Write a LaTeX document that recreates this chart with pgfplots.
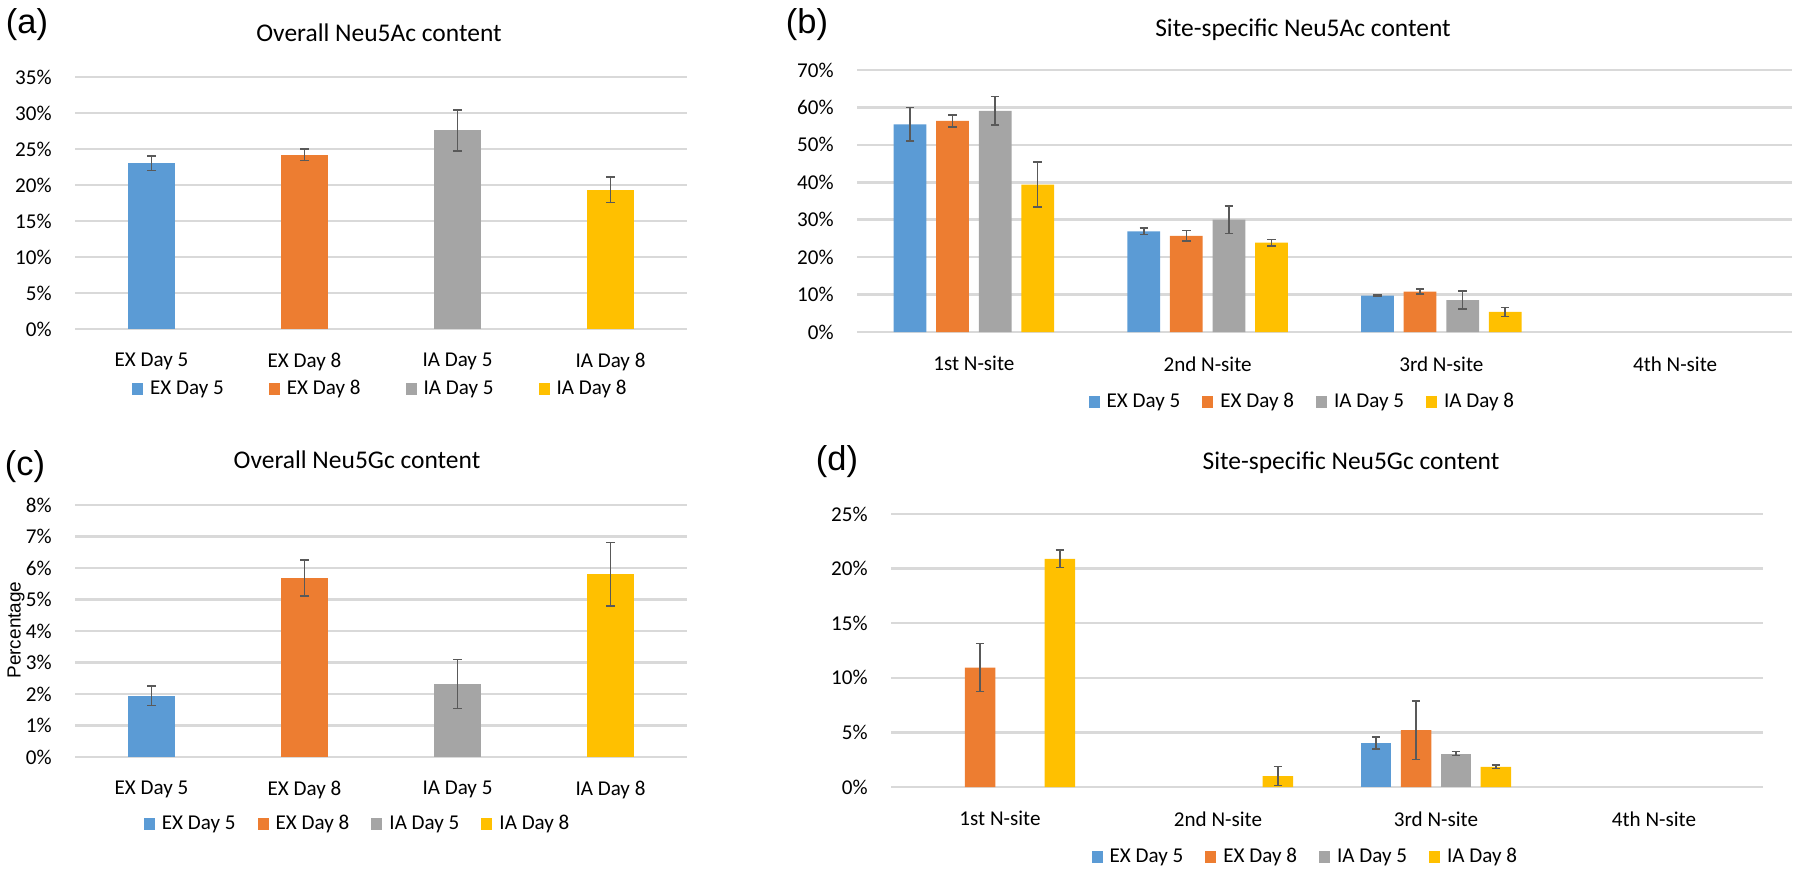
\documentclass[border=0pt]{standalone}
\usepackage{fontspec}
\setmainfont{Carlito}
\newfontfamily\arialfont{Liberation Sans}
\usepackage{pgfplots}
\pgfplotsset{compat=1.18}
\definecolor{cblue}{HTML}{5B9BD5}
\definecolor{corange}{HTML}{ED7D31}
\definecolor{cgray}{HTML}{A5A5A5}
\definecolor{cyellow}{HTML}{FFC000}
\definecolor{gridc}{HTML}{D9D9D9}
\definecolor{errc}{HTML}{595959}
\pgfplotsset{
  excel/.style={
    scale only axis,
    axis line style={draw=none},
    major tick length=0pt,
    ymajorgrids,
    grid style={color=gridc, line width=0.7pt},
    xmin=-0.5, xmax=3.5, xtick={0,1,2,3}, ymin=0,
    ybar,
    legend image code/.code={\fill[##1] (0cm,-0.05cm) rectangle (0.11cm,0.07cm);},
    tick label style={font=\fontsize{6}{7}\selectfont},
    /pgf/number format/assume math mode=true,
    yticklabel={\pgfmathprintnumber{\tick}\%},
    yticklabel style={xshift=-0.11cm},
    xticklabel style={yshift=-0.12cm},
    legend style={draw=none, fill=none, font=\fontsize{6}{7}\selectfont, legend columns=4, anchor=center},
    legend cell align=left,
    error bars/y dir=both, error bars/y explicit,
    error bars/error bar style={color=errc, line width=0.45pt},
    error bars/error mark options={rotate=90, color=errc, line width=0.45pt, mark size=1.2pt},
  },
  b1/.style={fill=cblue, draw=none},
  b2/.style={fill=corange, draw=none},
  b3/.style={fill=cgray, draw=none},
  b4/.style={fill=cyellow, draw=none},
}
\begin{document}
\begin{tikzpicture}
\useasboundingbox (0,0) rectangle (18,8.79);

% (a)
\begin{axis}[excel, at={(0.75cm,5.50cm)}, anchor=south west, width=6.12cm, height=2.52cm,
  ymax=35, ytick={0,5,...,35}, bar width=0.31,
  xticklabels={EX Day 5, EX Day 8, IA Day 5, IA Day 8},
  legend style={at={(0.503,-0.242)}, /tikz/every even column/.append style={column sep=0.38cm}}]
\addplot[b1, bar shift=0] coordinates {(0,23.04) +- (0,1.0)};
\addplot[b2, bar shift=0] coordinates {(1,24.2) +- (0,0.8)};
\addplot[b3, bar shift=0] coordinates {(2,27.6) +- (0,2.85)};
\addplot[b4, bar shift=0] coordinates {(3,19.35) +- (0,1.8)};
\legend{EX Day 5, EX Day 8, IA Day 5, IA Day 8}
\end{axis}

% (b)
\begin{axis}[excel, at={(8.57cm,5.47cm)}, anchor=south west, width=9.35cm, height=2.62cm,
  ymax=70, ytick={0,10,...,70}, bar width=0.14,
  xticklabels={1st N-site, 2nd N-site, 3rd N-site, 4th N-site},
  legend style={at={(0.479,-0.271)}, /tikz/every even column/.append style={column sep=0.15cm}}]
\addplot[b1, bar shift=-0.273] coordinates {(0,55.5) +- (0,4.45) (1,26.9) +- (0,0.85) (2,9.7) +- (0,0.2)};
\addplot[b2, bar shift=-0.091] coordinates {(0,56.4) +- (0,1.6) (1,25.7) +- (0,1.4) (2,10.8) +- (0,0.7)};
\addplot[b3, bar shift=0.091] coordinates {(0,59.1) +- (0,3.85) (1,30.0) +- (0,3.7) (2,8.5) +- (0,2.4)};
\addplot[b4, bar shift=0.273] coordinates {(0,39.4) +- (0,6.05) (1,23.9) +- (0,0.85) (2,5.35) +- (0,1.2)};
\legend{EX Day 5, EX Day 8, IA Day 5, IA Day 8}
\end{axis}

% (c)
\begin{axis}[excel, at={(0.75cm,1.22cm)}, anchor=south west, width=6.12cm, height=2.52cm,
  ymax=8, ytick={0,1,...,8}, bar width=0.31,
  xticklabels={EX Day 5, EX Day 8, IA Day 5, IA Day 8},
  legend style={at={(0.466,-0.27)}, /tikz/every even column/.append style={column sep=0.15cm}}]
\addplot[b1, bar shift=0] coordinates {(0,1.94) +- (0,0.31)};
\addplot[b2, bar shift=0] coordinates {(1,5.68) +- (0,0.57)};
\addplot[b3, bar shift=0] coordinates {(2,2.32) +- (0,0.78)};
\addplot[b4, bar shift=0] coordinates {(3,5.8) +- (0,1.01)};
\legend{EX Day 5, EX Day 8, IA Day 5, IA Day 8}
\end{axis}

% (d)
\begin{axis}[excel, at={(8.91cm,0.92cm)}, anchor=south west, width=8.72cm, height=2.73cm,
  ymax=25, ytick={0,5,...,25}, bar width=0.14,
  xticklabels={1st N-site, 2nd N-site, 3rd N-site, 4th N-site},
  legend style={at={(0.478,-0.26)}, /tikz/every even column/.append style={column sep=0.15cm}}]
\addplot[b1, bar shift=-0.275] coordinates {(2,4.03) +- (0,0.56)};
\addplot[b2, bar shift=-0.0915] coordinates {(0,10.94) +- (0,2.2) (2,5.2) +- (0,2.67)};
\addplot[b3, bar shift=0.0915] coordinates {(2,3.06) +- (0,0.18)};
\addplot[b4, bar shift=0.275] coordinates {(0,20.9) +- (0,0.78) (1,1.0) +- (0,0.86) (2,1.85) +- (0,0.17)};
\legend{EX Day 5, EX Day 8, IA Day 5, IA Day 8}
\end{axis}

% titles and panel letters
\node[font=\fontsize{7.25}{8.5}\selectfont] at (3.79,8.46) {Overall Neu5Ac content};
\node[font=\fontsize{7.25}{8.5}\selectfont] at (13.03,8.49) {Site-specific Neu5Ac content};
\node[font=\fontsize{7.25}{8.5}\selectfont] at (3.57,4.19) {Overall Neu5Gc content};
\node[font=\fontsize{7.25}{8.5}\selectfont] at (13.51,4.16) {Site-specific Neu5Gc content};
\node[font=\arialfont\fontsize{9.8}{11}\selectfont] at (0.27,8.54) {(a)};
\node[font=\arialfont\fontsize{9.8}{11}\selectfont] at (8.07,8.54) {(b)};
\node[font=\arialfont\fontsize{9.8}{11}\selectfont] at (0.25,4.12) {(c)};
\node[font=\arialfont\fontsize{9.8}{11}\selectfont] at (8.37,4.17) {(d)};
\node[font=\arialfont\fontsize{5.4}{6}\selectfont, rotate=90] at (0.16,2.49) {Percentage};
\end{tikzpicture}
\end{document}
